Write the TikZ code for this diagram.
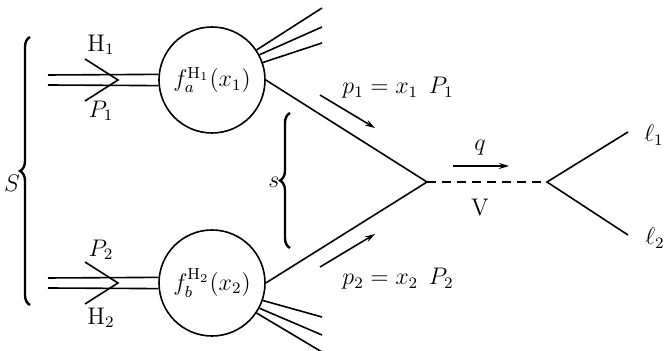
\documentclass[tikz,border=0pt]{standalone}
\usepackage{amsmath,amssymb}
\usepackage{tikz}
\usetikzlibrary{positioning,arrows.meta,decorations.pathreplacing,calc}

\begin{document}
\begin{tikzpicture}[
    x=0.5pt, y=-0.5pt,
    font=\large,
    blob/.style={draw, circle, thick, minimum size=53pt, inner sep=0pt},
    leg/.style={thick},
    mom/.style={-{Stealth[length=5pt,width=3pt]}, thick},
    curly/.style={decorate, decoration={brace, amplitude=5pt}, very thick},
  ]
  \useasboundingbox (0,0) rectangle (666,351);

  % Hadrons and parton densities
  \node[blob] (fa) at (212,80) {$f_a^{\mathrm{H}_1}(x_1)$};
  \node[blob] (fb) at (212,283) {$f_b^{\mathrm{H}_2}(x_2)$};

  % Incoming beams
  \coordinate (ina1) at (48,75);
  \coordinate (ina2) at (48,85);
  \coordinate (inb1) at (48,278);
  \coordinate (inb2) at (48,288);
  \draw[leg] (ina1) -- (fa.174);
  \draw[leg] (ina2) -- (fa.186);
  \draw[leg] (inb1) -- (fb.174);
  \draw[leg] (inb2) -- (fb.186);
  \coordinate (tipa) at (118,80);
  \coordinate (tipb) at (118,283);
  \draw[leg] (tipa) ++(-33,-21) -- (tipa) -- ++(-33,21);
  \draw[leg] (tipb) ++(-33,-21) -- (tipb) -- ++(-33,21);
  \node (H1) at (101,45) {$\mathrm{H}_1$};
  \node (P1) at (101,111) {$P_1$};
  \node (P2) at (101,250) {$P_2$};
  \node (H2) at (101,318) {$\mathrm{H}_2$};

  % Spectator jets
  \foreach \i/\a/\y in {1/34/8, 2/28/27, 3/19/43} {
    \coordinate (ja\i) at (322,\y);
    \draw[leg] (fa.\a) -- (ja\i);
  }
  \foreach \i/\a/\y in {1/-19/317, 2/-28/335, 3/-34/352} {
    \coordinate (jb\i) at (322,\y);
    \draw[leg] (fb.\a) -- (jb\i);
  }

  % Hard process
  \coordinate (vtx) at (427,182);
  \coordinate (dec) at (547,182);
  \coordinate (l1) at (628,132);
  \coordinate (l2) at (628,235);
  \draw[leg] (fa.east) -- (vtx) -- (fb.east);
  \draw[leg, dash pattern=on 4.5pt off 3pt] (vtx) -- (dec);
  \draw[leg] (l1) -- (dec) -- (l2);
  \node (lep1) at (654,135) {$\ell_1$};
  \node (lep2) at (655,238) {$\ell_2$};

  % Momentum flow
  \coordinate (pa0) at (320,95);
  \coordinate (pa1) at (375,128);
  \coordinate (pb0) at (320,267);
  \coordinate (pb1) at (375,234);
  \coordinate (q0) at (453,166);
  \coordinate (q1) at (509,166);
  \draw[mom] (pa0) -- (pa1);
  \draw[mom] (pb0) -- (pb1);
  \draw[mom] (q0) -- (q1);
  \node (p1) at (398,88) {$p_1 = x_1\;\, P_1$};
  \node (p2) at (398,279) {$p_2 = x_2\;\, P_2$};
  \node (q) at (480,148) {$q$};
  \node (V) at (480,207) {$\mathrm{V}$};

  % Energies
  \coordinate (Sb) at (30,305);
  \coordinate (St) at (30,37);
  \coordinate (sb) at (290,248);
  \coordinate (st) at (290,113);
  \draw[curly] (Sb) -- (St);
  \draw[curly] (sb) -- (st);
  \node (S) at (12,183) {$S$};
  \node (s) at (274,182) {$s$};
\end{tikzpicture}
\end{document}
